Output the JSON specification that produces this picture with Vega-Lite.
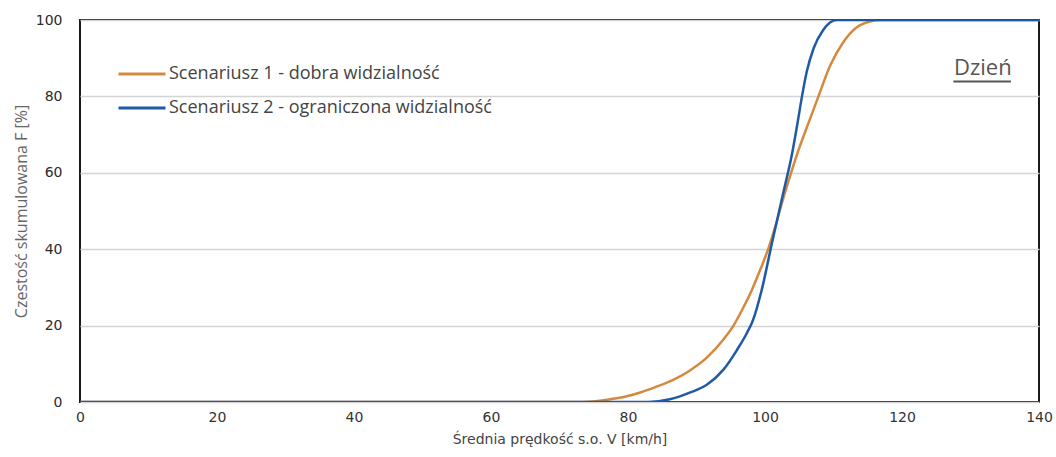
{
  "$schema": "https://vega.github.io/schema/vega-lite/v6.json",
  "width": 959,
  "height": 382,
  "autosize": "none",
  "padding": {"left": 80, "top": 20, "right": 17, "bottom": 55},
  "background": "white",
  "config": {
    "view": {"stroke": "#1a1a1a", "strokeWidth": 2},
    "font": "DejaVu Sans"
  },
  "datasets": {
    "curves": [
      {"s": "Scenariusz 1 - dobra widzialność", "v": 0, "F": 0},
      {"s": "Scenariusz 1 - dobra widzialność", "v": 73.5, "F": 0},
      {"s": "Scenariusz 1 - dobra widzialność", "v": 77, "F": 0.6},
      {"s": "Scenariusz 1 - dobra widzialność", "v": 79.8, "F": 1.5},
      {"s": "Scenariusz 1 - dobra widzialność", "v": 81.8, "F": 2.5},
      {"s": "Scenariusz 1 - dobra widzialność", "v": 84, "F": 3.9},
      {"s": "Scenariusz 1 - dobra widzialność", "v": 86.6, "F": 5.8},
      {"s": "Scenariusz 1 - dobra widzialność", "v": 89, "F": 8.2},
      {"s": "Scenariusz 1 - dobra widzialność", "v": 91.5, "F": 11.6},
      {"s": "Scenariusz 1 - dobra widzialność", "v": 93.9, "F": 16.3},
      {"s": "Scenariusz 1 - dobra widzialność", "v": 95.4, "F": 20},
      {"s": "Scenariusz 1 - dobra widzialność", "v": 96.8, "F": 24.6},
      {"s": "Scenariusz 1 - dobra widzialność", "v": 98.1, "F": 29.4},
      {"s": "Scenariusz 1 - dobra widzialność", "v": 99.3, "F": 34.6},
      {"s": "Scenariusz 1 - dobra widzialność", "v": 100.5, "F": 40.2},
      {"s": "Scenariusz 1 - dobra widzialność", "v": 101.6, "F": 46.5},
      {"s": "Scenariusz 1 - dobra widzialność", "v": 102.7, "F": 53.5},
      {"s": "Scenariusz 1 - dobra widzialność", "v": 103.9, "F": 60.5},
      {"s": "Scenariusz 1 - dobra widzialność", "v": 104.9, "F": 66},
      {"s": "Scenariusz 1 - dobra widzialność", "v": 106.3, "F": 72.8},
      {"s": "Scenariusz 1 - dobra widzialność", "v": 107.8, "F": 80},
      {"s": "Scenariusz 1 - dobra widzialność", "v": 109.5, "F": 88},
      {"s": "Scenariusz 1 - dobra widzialność", "v": 111.4, "F": 94.1},
      {"s": "Scenariusz 1 - dobra widzialność", "v": 113.4, "F": 98.1},
      {"s": "Scenariusz 1 - dobra widzialność", "v": 115.3, "F": 99.6},
      {"s": "Scenariusz 1 - dobra widzialność", "v": 117, "F": 100},
      {"s": "Scenariusz 1 - dobra widzialność", "v": 140, "F": 100},
      {"s": "Scenariusz 2 - ograniczona widzialność", "v": 0, "F": 0},
      {"s": "Scenariusz 2 - ograniczona widzialność", "v": 83, "F": 0},
      {"s": "Scenariusz 2 - ograniczona widzialność", "v": 86.1, "F": 0.7},
      {"s": "Scenariusz 2 - ograniczona widzialność", "v": 89.1, "F": 2.5},
      {"s": "Scenariusz 2 - ograniczona widzialność", "v": 91.5, "F": 4.5},
      {"s": "Scenariusz 2 - ograniczona widzialność", "v": 93.9, "F": 8.4},
      {"s": "Scenariusz 2 - ograniczona widzialność", "v": 95.9, "F": 13.6},
      {"s": "Scenariusz 2 - ograniczona widzialność", "v": 97.4, "F": 18.2},
      {"s": "Scenariusz 2 - ograniczona widzialność", "v": 98.2, "F": 21.2},
      {"s": "Scenariusz 2 - ograniczona widzialność", "v": 99.5, "F": 29.2},
      {"s": "Scenariusz 2 - ograniczona widzialność", "v": 101, "F": 41.5},
      {"s": "Scenariusz 2 - ograniczona widzialność", "v": 102.7, "F": 55},
      {"s": "Scenariusz 2 - ograniczona widzialność", "v": 103.9, "F": 64.5},
      {"s": "Scenariusz 2 - ograniczona widzialność", "v": 104.7, "F": 72.5},
      {"s": "Scenariusz 2 - ograniczona widzialność", "v": 105.4, "F": 80},
      {"s": "Scenariusz 2 - ograniczona widzialność", "v": 106.1, "F": 86.5},
      {"s": "Scenariusz 2 - ograniczona widzialność", "v": 107.1, "F": 92.6},
      {"s": "Scenariusz 2 - ograniczona widzialność", "v": 108.5, "F": 97.4},
      {"s": "Scenariusz 2 - ograniczona widzialność", "v": 110.5, "F": 100},
      {"s": "Scenariusz 2 - ograniczona widzialność", "v": 140, "F": 100}
    ],
    "label": [{"text": "Dzień", "v": 131.8, "F": 85.6, "v0": 127.5, "v1": 135.9, "Fu": 83.9}]
  },
  "layer": [
    {
      "data": {"name": "curves"},
      "mark": {"type": "line", "interpolate": "monotone", "strokeWidth": 2.5, "clip": true},
      "encoding": {
        "x": {
          "field": "v", "type": "quantitative",
          "scale": {"domain": [0, 140], "nice": false, "zero": false},
          "axis": {
            "values": [0, 20, 40, 60, 80, 100, 120, 140],
            "title": "Średnia prędkość s.o.  V  [km/h]",
            "grid": false, "ticks": false, "domain": false,
            "labelFont": "DejaVu Sans", "labelFontSize": 14, "labelColor": "#333",
            "labelPadding": 8, "labelFlush": false,
            "titleFont": "DejaVu Sans", "titleFontSize": 14, "titleFontWeight": "normal",
            "titleColor": "#444", "titlePadding": 8
          }
        },
        "y": {
          "field": "F", "type": "quantitative",
          "scale": {"domain": [0, 100], "nice": false},
          "axis": {
            "values": [0, 20, 40, 60, 80, 100],
            "title": "Czestość skumulowana F [%]",
            "grid": true, "gridColor": "#d4d4d4", "gridWidth": 1.5,
            "ticks": false, "domain": false,
            "labelFont": "DejaVu Sans", "labelFontSize": 14, "labelColor": "#2a2a2a",
            "labelPadding": 18,
            "titleFont": "Open Sans", "titleFontSize": 16, "titleFontWeight": "normal",
            "titleColor": "#666", "titlePadding": 6
          }
        },
        "color": {
          "field": "s", "type": "nominal",
          "scale": {
            "domain": ["Scenariusz 1 - dobra widzialność", "Scenariusz 2 - ograniczona widzialność"],
            "range": ["#d4893e", "#1f5aa6"]
          },
          "legend": {
            "title": null,
            "orient": "none",
            "legendX": 37,
            "legendY": 29,
            "padding": 0,
            "symbolType": "stroke",
            "symbolSize": 2209,
            "symbolStrokeWidth": 3,
            "rowPadding": -20,
            "labelOffset": 2,
            "labelFont": "Open Sans",
            "labelFontSize": 18,
            "labelColor": "#444",
            "labelLimit": 600
          }
        }
      }
    },
    {
      "data": {"name": "label"},
      "mark": {"type": "text", "font": "Open Sans", "fontSize": 22, "color": "#555", "align": "center", "baseline": "alphabetic"},
      "encoding": {
        "x": {"field": "v", "type": "quantitative"},
        "y": {"field": "F", "type": "quantitative"},
        "text": {"field": "text"}
      }
    },
    {
      "data": {"name": "label"},
      "mark": {"type": "rule", "color": "#555", "strokeWidth": 2},
      "encoding": {
        "x": {"field": "v0", "type": "quantitative"},
        "x2": {"field": "v1"},
        "y": {"field": "Fu", "type": "quantitative"}
      }
    }
  ]
}
